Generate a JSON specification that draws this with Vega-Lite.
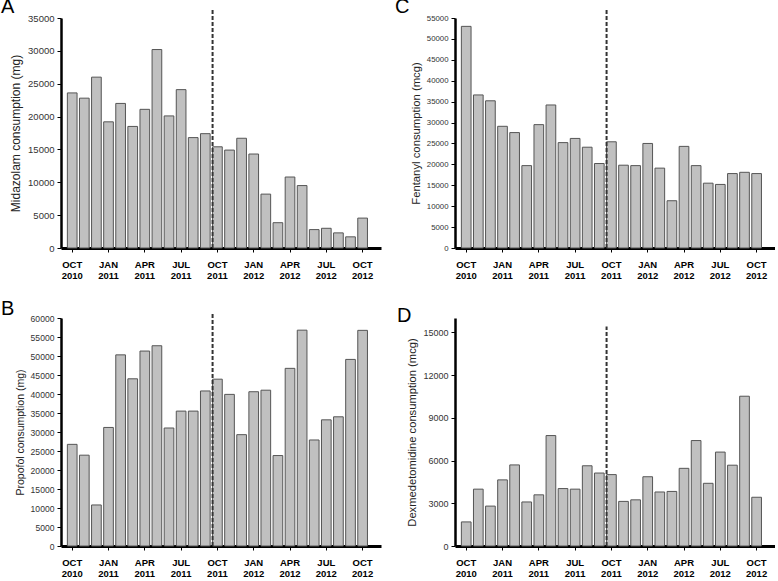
{
  "$schema": "https://vega.github.io/schema/vega-lite/v6.json",
  "padding": {"left": 1, "top": -4, "right": 0, "bottom": 0},
  "datasets": {
    "monthly": [
      {"month": "Oct 2010", "midazolam": 23600, "fentanyl": 53000, "propofol": 26750, "dexmedetomidine": 1690},
      {"month": "Nov 2010", "midazolam": 22800, "fentanyl": 36600, "propofol": 23900, "dexmedetomidine": 3990},
      {"month": "Dec 2010", "midazolam": 26000, "fentanyl": 35200, "propofol": 10800, "dexmedetomidine": 2800},
      {"month": "Jan 2011", "midazolam": 19200, "fentanyl": 29100, "propofol": 31200, "dexmedetomidine": 4640},
      {"month": "Feb 2011", "midazolam": 22000, "fentanyl": 27600, "propofol": 50300, "dexmedetomidine": 5690},
      {"month": "Mar 2011", "midazolam": 18500, "fentanyl": 19700, "propofol": 44000, "dexmedetomidine": 3090},
      {"month": "Apr 2011", "midazolam": 21100, "fentanyl": 29500, "propofol": 51300, "dexmedetomidine": 3590},
      {"month": "May 2011", "midazolam": 30200, "fentanyl": 34200, "propofol": 52700, "dexmedetomidine": 7750},
      {"month": "Jun 2011", "midazolam": 20100, "fentanyl": 25200, "propofol": 31050, "dexmedetomidine": 4030},
      {"month": "Jul 2011", "midazolam": 24100, "fentanyl": 26200, "propofol": 35500, "dexmedetomidine": 3990},
      {"month": "Aug 2011", "midazolam": 16800, "fentanyl": 24100, "propofol": 35500, "dexmedetomidine": 5630},
      {"month": "Sep 2011", "midazolam": 17400, "fentanyl": 20200, "propofol": 40800, "dexmedetomidine": 5120},
      {"month": "Oct 2011", "midazolam": 15400, "fentanyl": 25400, "propofol": 43900, "dexmedetomidine": 5010},
      {"month": "Nov 2011", "midazolam": 14900, "fentanyl": 19800, "propofol": 39900, "dexmedetomidine": 3130},
      {"month": "Dec 2011", "midazolam": 16700, "fentanyl": 19700, "propofol": 29300, "dexmedetomidine": 3240},
      {"month": "Jan 2012", "midazolam": 14300, "fentanyl": 25000, "propofol": 40600, "dexmedetomidine": 4860},
      {"month": "Feb 2012", "midazolam": 8200, "fentanyl": 19100, "propofol": 41000, "dexmedetomidine": 3790},
      {"month": "Mar 2012", "midazolam": 3850, "fentanyl": 11300, "propofol": 23800, "dexmedetomidine": 3830},
      {"month": "Apr 2012", "midazolam": 10800, "fentanyl": 24300, "propofol": 46750, "dexmedetomidine": 5450},
      {"month": "May 2012", "midazolam": 9500, "fentanyl": 19700, "propofol": 56800, "dexmedetomidine": 7400},
      {"month": "Jun 2012", "midazolam": 2800, "fentanyl": 15500, "propofol": 27900, "dexmedetomidine": 4400},
      {"month": "Jul 2012", "midazolam": 3000, "fentanyl": 15200, "propofol": 33200, "dexmedetomidine": 6590},
      {"month": "Aug 2012", "midazolam": 2300, "fentanyl": 17800, "propofol": 34000, "dexmedetomidine": 5670},
      {"month": "Sep 2012", "midazolam": 1700, "fentanyl": 18100, "propofol": 49100, "dexmedetomidine": 10510},
      {"month": "Oct 2012", "midazolam": 4550, "fentanyl": 17800, "propofol": 56750, "dexmedetomidine": 3420}
    ],
    "cutoff": [{"month": "Oct 2011"}]
  },
  "columns": 2,
  "spacing": {"row": 18, "column": 14},
  "concat": [
    {
      "width": 320, "height": 230,
      "title": {"text": "A", "dx": -60, "dy": 12},
      "layer": [
        {
          "data": {"name": "monthly"},
          "mark": {"type": "bar", "fill": "#c0c0c0", "stroke": "#555555", "strokeWidth": 1},
          "encoding": {
            "x": {"field": "month", "type": "ordinal", "scale": {"domain": ["Oct 2010","Nov 2010","Dec 2010","Jan 2011","Feb 2011","Mar 2011","Apr 2011","May 2011","Jun 2011","Jul 2011","Aug 2011","Sep 2011","Oct 2011","Nov 2011","Dec 2011","Jan 2012","Feb 2012","Mar 2012","Apr 2012","May 2012","Jun 2012","Jul 2012","Aug 2012","Sep 2012","Oct 2012"], "paddingInner": 0.2, "paddingOuter": 0.823, "align": 0.32},
                  "axis": {"title": null, "values": ["Oct 2010","Jan 2011","Apr 2011","Jul 2011","Oct 2011","Jan 2012","Apr 2012","Jul 2012","Oct 2012"], "labelExpr": "[upper(slice(datum.value,0,3)), slice(datum.value,4)]"}},
            "y": {"field": "midazolam", "type": "quantitative", "scale": {"domain": [0, 35000]},
                  "axis": {"title": "Midazolam consumption (mg)", "values": [0,5000,10000,15000,20000,25000,30000,35000], "labelOverlap": false, "labelFontSize": 9.5, "titleFontSize": 12}}
          }
        },
        {
          "data": {"name": "cutoff"},
          "mark": {"type": "rule", "stroke": "#333333", "strokeWidth": 2, "strokeDash": [4, 2]},
          "encoding": {
            "x": {"field": "month", "type": "ordinal", "bandPosition": 0},
            "y": {"datum": 0, "type": "quantitative", "axis": {"title": "Midazolam consumption (mg)", "values": [0,5000,10000,15000,20000,25000,30000,35000], "labelOverlap": false, "labelFontSize": 9.5, "titleFontSize": 12}},
            "y2": {"datum": 36200}
          }
        }
      ]
    },
    {
      "width": 320, "height": 230,
      "title": {"text": "C", "dx": -60, "dy": 12},
      "layer": [
        {
          "data": {"name": "monthly"},
          "mark": {"type": "bar", "fill": "#c0c0c0", "stroke": "#555555", "strokeWidth": 1},
          "encoding": {
            "x": {"field": "month", "type": "ordinal", "scale": {"domain": ["Oct 2010","Nov 2010","Dec 2010","Jan 2011","Feb 2011","Mar 2011","Apr 2011","May 2011","Jun 2011","Jul 2011","Aug 2011","Sep 2011","Oct 2011","Nov 2011","Dec 2011","Jan 2012","Feb 2012","Mar 2012","Apr 2012","May 2012","Jun 2012","Jul 2012","Aug 2012","Sep 2012","Oct 2012"], "paddingInner": 0.2, "paddingOuter": 0.823, "align": 0.32},
                  "axis": {"title": null, "values": ["Oct 2010","Jan 2011","Apr 2011","Jul 2011","Oct 2011","Jan 2012","Apr 2012","Jul 2012","Oct 2012"], "labelExpr": "[upper(slice(datum.value,0,3)), slice(datum.value,4)]"}},
            "y": {"field": "fentanyl", "type": "quantitative", "scale": {"domain": [0, 55000]},
                  "axis": {"title": "Fentanyl consumption (mcg)", "values": [0,5000,10000,15000,20000,25000,30000,35000,40000,45000,50000,55000], "labelOverlap": false, "labelFontSize": 7.8, "titleFontSize": 11.3}}
          }
        },
        {
          "data": {"name": "cutoff"},
          "mark": {"type": "rule", "stroke": "#333333", "strokeWidth": 2, "strokeDash": [4, 2]},
          "encoding": {
            "x": {"field": "month", "type": "ordinal", "bandPosition": 0},
            "y": {"datum": 0, "type": "quantitative", "axis": {"title": "Fentanyl consumption (mcg)", "values": [0,5000,10000,15000,20000,25000,30000,35000,40000,45000,50000,55000], "labelOverlap": false, "labelFontSize": 7.8, "titleFontSize": 11.3}},
            "y2": {"datum": 57000}
          }
        }
      ]
    },
    {
      "width": 320, "height": 228,
      "title": {"text": "B", "dx": -60, "dy": 12},
      "layer": [
        {
          "data": {"name": "monthly"},
          "mark": {"type": "bar", "fill": "#c0c0c0", "stroke": "#555555", "strokeWidth": 1},
          "encoding": {
            "x": {"field": "month", "type": "ordinal", "scale": {"domain": ["Oct 2010","Nov 2010","Dec 2010","Jan 2011","Feb 2011","Mar 2011","Apr 2011","May 2011","Jun 2011","Jul 2011","Aug 2011","Sep 2011","Oct 2011","Nov 2011","Dec 2011","Jan 2012","Feb 2012","Mar 2012","Apr 2012","May 2012","Jun 2012","Jul 2012","Aug 2012","Sep 2012","Oct 2012"], "paddingInner": 0.2, "paddingOuter": 0.823, "align": 0.32},
                  "axis": {"title": null, "values": ["Oct 2010","Jan 2011","Apr 2011","Jul 2011","Oct 2011","Jan 2012","Apr 2012","Jul 2012","Oct 2012"], "labelExpr": "[upper(slice(datum.value,0,3)), slice(datum.value,4)]"}},
            "y": {"field": "propofol", "type": "quantitative", "scale": {"domain": [0, 60000]},
                  "axis": {"title": "Propofol consumption (mg)", "values": [0,5000,10000,15000,20000,25000,30000,35000,40000,45000,50000,55000,60000], "labelOverlap": false, "labelFontSize": 8.6, "titleFontSize": 10.5}}
          }
        },
        {
          "data": {"name": "cutoff"},
          "mark": {"type": "rule", "stroke": "#333333", "strokeWidth": 2, "strokeDash": [4, 2]},
          "encoding": {
            "x": {"field": "month", "type": "ordinal", "bandPosition": 0},
            "y": {"datum": 0, "type": "quantitative", "axis": {"title": "Propofol consumption (mg)", "values": [0,5000,10000,15000,20000,25000,30000,35000,40000,45000,50000,55000,60000], "labelOverlap": false, "labelFontSize": 8.6, "titleFontSize": 10.5}},
            "y2": {"datum": 61600}
          }
        }
      ]
    },
    {
      "width": 320, "height": 228,
      "title": {"text": "D", "dx": -58, "dy": 12},
      "layer": [
        {
          "data": {"name": "monthly"},
          "mark": {"type": "bar", "fill": "#c0c0c0", "stroke": "#555555", "strokeWidth": 1},
          "encoding": {
            "x": {"field": "month", "type": "ordinal", "scale": {"domain": ["Oct 2010","Nov 2010","Dec 2010","Jan 2011","Feb 2011","Mar 2011","Apr 2011","May 2011","Jun 2011","Jul 2011","Aug 2011","Sep 2011","Oct 2011","Nov 2011","Dec 2011","Jan 2012","Feb 2012","Mar 2012","Apr 2012","May 2012","Jun 2012","Jul 2012","Aug 2012","Sep 2012","Oct 2012"], "paddingInner": 0.2, "paddingOuter": 0.823, "align": 0.32},
                  "axis": {"title": null, "values": ["Oct 2010","Jan 2011","Apr 2011","Jul 2011","Oct 2011","Jan 2012","Apr 2012","Jul 2012","Oct 2012"], "labelExpr": "[upper(slice(datum.value,0,3)), slice(datum.value,4)]"}},
            "y": {"field": "dexmedetomidine", "type": "quantitative", "scale": {"domain": [0, 15000]},
                  "axis": {"title": "Dexmedetomidine consumption (mcg)", "values": [0,3000,6000,9000,12000,15000], "labelOverlap": false, "labelFontSize": 9, "titleFontSize": 11.2}}
          }
        },
        {
          "data": {"name": "cutoff"},
          "mark": {"type": "rule", "stroke": "#333333", "strokeWidth": 2, "strokeDash": [4, 2]},
          "encoding": {
            "x": {"field": "month", "type": "ordinal", "bandPosition": 0},
            "y": {"datum": 0, "type": "quantitative", "axis": {"title": "Dexmedetomidine consumption (mcg)", "values": [0,3000,6000,9000,12000,15000], "labelOverlap": false, "labelFontSize": 9, "titleFontSize": 11.2}},
            "y2": {"datum": 15400}
          }
        }
      ]
    }
  ],
  "config": {
    "font": "Liberation Sans",
    "view": {"stroke": null},
    "title": {"anchor": "start", "frame": "group", "fontSize": 20, "fontWeight": "normal", "color": "#000000", "offset": 0, "baseline": "alphabetic"},
    "axis": {"grid": false, "domainColor": "#000000", "tickColor": "#000000", "titleFontWeight": "normal", "titleColor": "#222222", "labelColor": "#333333"},
    "axisX": {"domainWidth": 3, "tickSize": 4, "tickWidth": 1, "labelAngle": 0, "labelFontSize": 9.5, "labelFontWeight": "bold", "labelColor": "#000000", "labelLineHeight": 11, "labelBaseline": "top", "labelPadding": 7, "labelOverlap": false},
    "axisY": {"domainWidth": 2.5, "tickSize": 4, "tickWidth": 1, "labelPadding": 3, "titlePadding": 5, "format": "d", "labelOverlap": false}
  }
}
